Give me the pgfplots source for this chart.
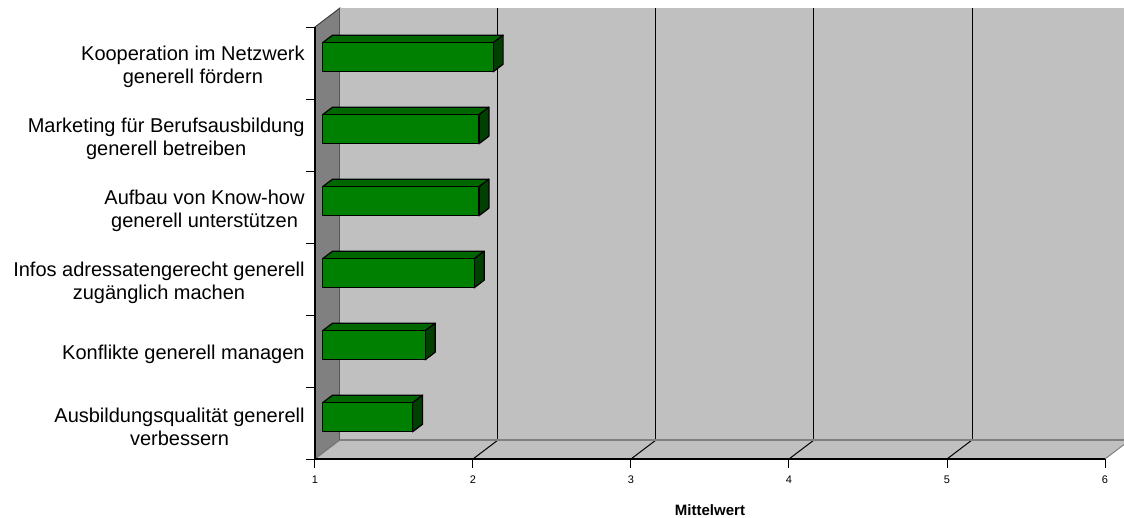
\documentclass[border=0pt]{standalone}
\usepackage{pgfplots}
\pgfplotsset{compat=1.18}
\usepackage{pgfplotstable}
\usepackage{fontspec}
\setmainfont{Liberation Sans}

\definecolor{wallback}{HTML}{C0C0C0}
\definecolor{wallside}{HTML}{808080}
\definecolor{barfront}{HTML}{008000}
\definecolor{bartop}{HTML}{006600}
\definecolor{barside}{HTML}{004000}

% mean rating per item (pos 0 = bottom row)
\pgfplotstableread{
pos value
0 1.57
1 1.65
2 1.96
3 1.99
4 1.99
5 2.08
}\bardata

% top and side faces of one 3D bar; #1 = row, #2 = mean value
\newcommand\drawbarfaces[2]{%
  \pgfmathsetmacro\xe{#2-1}%
  \pgfmathsetmacro\yt{#1+0.2014}%
  \pgfmathsetmacro\yb{#1-0.2014}%
  \edef\temp{%
    \noexpand\filldraw[fill=bartop,draw=black,line width=0.6pt,line join=round]
      ([shift={(3.75pt,2.85pt)}]axis cs:0,\yt) --
      ([shift={(3.75pt,2.85pt)}]axis cs:\xe,\yt) --
      ([shift={(8.75pt,6.65pt)}]axis cs:\xe,\yt) --
      ([shift={(8.75pt,6.65pt)}]axis cs:0,\yt) -- cycle;
    \noexpand\filldraw[fill=barside,draw=black,line width=0.6pt,line join=round]
      ([shift={(3.75pt,2.85pt)}]axis cs:\xe,\yb) --
      ([shift={(3.75pt,2.85pt)}]axis cs:\xe,\yt) --
      ([shift={(8.75pt,6.65pt)}]axis cs:\xe,\yt) --
      ([shift={(8.75pt,6.65pt)}]axis cs:\xe,\yb) -- cycle;
  }%
  \temp
}

\begin{document}
\begin{tikzpicture}
\begin{axis}[
  x=79pt, y=36pt,
  xmin=0, xmax=5, ymin=-0.5, ymax=5.5,
  clip=false,
  axis on top,
  axis x line*=bottom, axis y line*=left,
  axis line style={black, line width=0.6pt},
  tick align=outside,
  major tick length=4.5pt, minor tick length=4.5pt,
  every tick/.style={black, line width=0.5pt},
  xtick={0,...,5},
  xticklabels={1,2,3,4,5,6},
  xticklabel style={font=\fontsize{5.5}{6.6}\selectfont, yshift=-0.6pt},
  ytick={0,...,5},
  minor ytick={-0.5,0.5,...,5.5},
  every major y tick/.append style={draw=none},
  yticklabels={
    {Ausbildungsqualität generell\\verbessern},
    {Konflikte generell managen},
    {Infos adressatengerecht generell\\zugänglich machen},
    {Aufbau von Know-how\\generell unterstützen},
    {Marketing für Berufsausbildung\\generell betreiben},
    {Kooperation im Netzwerk\\generell fördern}},
  yticklabel style={font=\fontsize{10}{11.6}\selectfont, align=center,
    inner sep=0pt, xshift=-0.5pt, yshift=-1.8pt},
  xlabel={Mittelwert},
  xlabel style={font=\fontsize{7.5}{9}\selectfont\bfseries,
    at={(axis description cs:0.5,0)}, anchor=base, yshift=-28pt},
]
% side wall, back wall and floor of the 3D box
\filldraw[fill=wallside, draw=black!75, line width=0.5pt]
  (axis cs:0,-0.5) -- (axis cs:0,5.5) --
  ([shift={(12.5pt,9.5pt)}]axis cs:0,5.5) --
  ([shift={(12.5pt,9.5pt)}]axis cs:0,-0.5) -- cycle;
\fill[wallback]
  ([shift={(12.5pt,9.5pt)}]axis cs:0,-0.5) rectangle
  ([shift={(12.5pt,9.5pt)}]axis cs:5,5.5);
\fill[wallback]
  (axis cs:0,-0.5) -- (axis cs:5,-0.5) --
  ([shift={(12.5pt,9.5pt)}]axis cs:5,-0.5) --
  ([shift={(12.5pt,9.5pt)}]axis cs:0,-0.5) -- cycle;
% grid lines on back wall and floor
\pgfplotsinvokeforeach{1,...,4}{%
  \draw[black, line width=0.5pt]
    ([shift={(12.5pt,9.5pt)}]axis cs:#1,-0.5) --
    ([shift={(12.5pt,9.5pt)}]axis cs:#1,5.5);
  \draw[black, line width=0.5pt]
    (axis cs:#1,-0.5) -- ([shift={(12.5pt,9.5pt)}]axis cs:#1,-0.5);
}
\draw[wallside, line width=0.5pt]
  (axis cs:0,-0.5) -- ([shift={(12.5pt,9.5pt)}]axis cs:0,-0.5);
\draw[wallside, line width=0.5pt]
  (axis cs:5,-0.5) -- ([shift={(12.5pt,9.5pt)}]axis cs:5,-0.5);
\draw[wallside, line width=1pt]
  ([shift={(12.5pt,9.5pt)}]axis cs:0,-0.5) --
  ([shift={(12.5pt,9.5pt)}]axis cs:5,-0.5);
% bars: top and side faces, then the front faces
\pgfplotsinvokeforeach{0,...,5}{%
  \pgfplotstablegetelem{#1}{value}\of\bardata
  \drawbarfaces{#1}{\pgfplotsretval}%
}
\addplot[xbar, bar width=14.5pt, fill=barfront, draw=black,
  line width=0.6pt, xshift=3.75pt, yshift=2.85pt]
  table[x expr=\thisrow{value}-1, y=pos] {\bardata};
\coordinate (bbsw) at (axis cs:-1.9937,-1.3056);
\coordinate (bbne) at (axis cs:5.1203,5.875);
\end{axis}
\pgfresetboundingbox
\path[use as bounding box] (bbsw) rectangle (bbne);
\end{tikzpicture}
\end{document}
